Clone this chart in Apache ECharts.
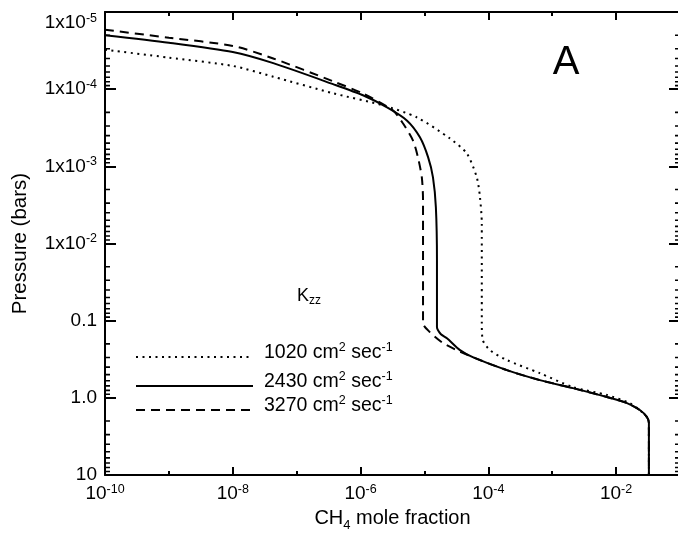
<!DOCTYPE html>
<html><head><meta charset="utf-8">
<script src="https://cdn.jsdelivr.net/npm/echarts@6/dist/echarts.min.js"></script>
<style>html,body{margin:0;padding:0;background:#fff}#c{width:678px;height:534px}</style>
</head><body><div id="c"></div>
<script>
const FONT = '"Liberation Sans", Arial, Helvetica, sans-serif';

// ---- data (CH4 mole fraction vs pressure in bars) ----
const seriesNames = ['1020', '2430', '3270'];
const mole1020 = [1e-10, 1e-9, 1e-8, 4.3e-8, 3.7e-7, 2.24e-6, 7.6e-6, 2.5e-5, 4.6e-5, 6.6e-5, 7.4e-5, 7.9e-5, 7.9e-5, 8.2e-5, 1.06e-4, 1.95e-4, 6.4e-4, 2.11e-3, 7.2e-3, 1.64e-2, 2.35e-2, 3.03e-2, 3.26e-2, 3.26e-2];
const pres1020 = [3.08e-5, 3.9e-5, 5.0e-5, 6.9e-5, 1.13e-4, 1.62e-4, 2.32e-4, 4.35e-4, 6.8e-4, 1.39e-3, 2.52e-3, 5.5e-3, 0.108, 0.179, 0.241, 0.324, 0.479, 0.726, 0.92, 1.17, 1.44, 1.77, 2.12, 10];
const mole2430 = [1e-10, 1e-9, 1e-8, 4.3e-8, 3.7e-7, 1.09e-6, 2.6e-6, 5.3e-6, 8.5e-6, 1.14e-5, 1.36e-5, 1.51e-5, 1.57e-5, 1.57e-5, 1.81e-5, 2.25e-5, 3.6e-5, 5.7e-5, 1.95e-4, 6.4e-4, 2.11e-3, 7.2e-3, 1.48e-2, 2.35e-2, 3.03e-2, 3.26e-2, 3.26e-2];
const pres2430 = [2.0e-5, 2.5e-5, 3.3e-5, 4.6e-5, 8.6e-5, 1.2e-4, 1.72e-4, 2.54e-4, 4.2e-4, 7.6e-4, 1.39e-3, 3.4e-3, 1.65e-2, 0.121, 0.150, 0.169, 0.241, 0.297, 0.438, 0.59, 0.748, 0.977, 1.17, 1.44, 1.77, 2.12, 10];
const mole3270 = [1e-10, 1e-9, 1e-8, 4.3e-8, 3.7e-7, 1.09e-6, 3.2e-6, 4.6e-6, 6.6e-6, 7.9e-6, 9.1e-6, 9.5e-6, 9.5e-6, 1.22e-5, 1.95e-5, 3.2e-5, 5.7e-5, 1.95e-4, 6.4e-4, 2.11e-3, 7.2e-3, 1.48e-2, 2.35e-2, 3.03e-2, 3.26e-2, 3.26e-2];
const pres3270 = [1.70e-5, 2.15e-5, 2.75e-5, 4.0e-5, 7.9e-5, 1.14e-4, 1.88e-4, 2.77e-4, 4.6e-4, 7.6e-4, 1.39e-3, 2.75e-3, 0.108, 0.141, 0.195, 0.241, 0.297, 0.438, 0.59, 0.748, 0.977, 1.17, 1.44, 1.77, 2.12, 10];

// ---- axes / tick labels (decade exponents) ----
const xMinExp = -10, xMaxExp = -1;
const yMinExp = -5, yMaxExp = 1;
const xTickLabels = {'-10': '10^-10', '-8': '10^-8', '-6': '10^-6', '-4': '10^-4', '-2': '10^-2'};
const yTickLabels = {'-5': '1x10^-5', '-4': '1x10^-4', '-3': '1x10^-3', '-2': '1x10^-2', '-1': '0.1', '0': '1.0', '1': '10'};
const xTitle = ['CH', '4', ' mole fraction'];
const yTitle = 'Pressure (bars)';
const legendTitle = ['K', 'zz'];
const legendUnit = ['cm', '2', ' sec', '-1'];
const panelLabel = 'A';

// minor y ticks at 2..9 x 10^k ; tick length expressed in decades of the x axis
const yMinorExps = [];
for (let k = yMinExp; k < yMaxExp; k++) for (let m = 2; m <= 9; m++) yMinorExps.push(k + Math.log10(m));
const minorTickLen = 0.078;

const toPts = (xs, ps) => xs.map((x, i) => [Math.log10(x), Math.log10(ps[i])]);

function supFmt(str) {
  if (!str) return '';
  const i = str.indexOf('^');
  if (i < 0) return '{b|' + str + '}';
  return '{b|' + str.slice(0, i) + '}{s|' + str.slice(i + 1) + '}';
}
const richSup = {
  b: {fontSize: 19, lineHeight: 22, fontFamily: FONT, color: '#000'},
  s: {fontSize: 12.5, lineHeight: 12, verticalAlign: 'top', fontFamily: FONT, color: '#000'}
};
const key = v => String(Math.round(v));
const isInt = v => Math.abs(v - Math.round(v)) < 1e-9;

const chart = echarts.init(document.getElementById('c'), null, {renderer: 'canvas'});
const lineAx = () => ({show: true, onZero: false, lineStyle: {color: '#000', width: 2}});
const noLine = () => ({show: false, onZero: false});

function xAx(pos, len, labels, line) {
  return {
    type: 'value', position: pos, min: xMinExp, max: xMaxExp, interval: labels !== null ? 2 : 1,
    axisLine: line ? lineAx() : noLine(),
    axisTick: {show: true, inside: true, length: len, lineStyle: {color: '#000', width: 2}},
    splitLine: {show: false},
    axisLabel: labels ? {show: true, margin: 8, formatter: v => isInt(v) ? supFmt(xTickLabels[key(v)]) : '', rich: richSup} : {show: false}
  };
}

const baseLine = {type: 'line', showSymbol: false, symbol: 'none', silent: true, z: 3, smooth: 0.25};

// minor tick segments as a broken line series (null points break the line)
function tickSegs(x0, x1) {
  const d = [];
  yMinorExps.forEach(v => { d.push([x0, v], [x1, v], [x0, null]); });
  return d;
}
const tickSeries = (name, x0, x1) => ({
  type: 'line', name: name, showSymbol: false, symbol: 'none', silent: true, connectNulls: false,
  smooth: false, z: 4, lineStyle: {color: '#000', width: 1.6, type: 'solid'}, itemStyle: {color: '#000'},
  data: tickSegs(x0, x1)
});

const option = {
  animation: false,
  backgroundColor: '#fff',
  grid: {left: 105, right: -2, top: 12, bottom: 59, containLabel: false, outerBoundsMode: 'none'},
  xAxis: [
    Object.assign(xAx('bottom', 8, true, true), {
      name: '{n|' + xTitle[0] + '}{u|' + xTitle[1] + '}{n|' + xTitle[2] + '}',
      nameLocation: 'middle', nameGap: 24,
      nameTextStyle: {rich: {
        n: {fontSize: 20, lineHeight: 28, fontFamily: FONT, color: '#000'},
        u: {fontSize: 13, lineHeight: 13, verticalAlign: 'bottom', fontFamily: FONT, color: '#000'}
      }}
    }),
    xAx('bottom', 4, null, false),
    xAx('top', 8, false, true),
    xAx('top', 4, null, false)
  ],
  yAxis: [
    {
      type: 'value', position: 'left', min: yMinExp, max: yMaxExp, interval: 1, inverse: true,
      axisLine: lineAx(),
      axisTick: {show: true, inside: true, length: 11, lineStyle: {color: '#000', width: 2}},
      splitLine: {show: false},
      axisLabel: {show: true, margin: 8, formatter: v => supFmt(yTickLabels[key(v)]), rich: richSup, verticalAlignMinLabel: 'top'},
      name: yTitle, nameLocation: 'middle', nameGap: 73,
      nameTextStyle: {fontSize: 20.5, lineHeight: 24, fontFamily: FONT, color: '#000'}
    },
    {
      type: 'value', position: 'right', min: yMinExp, max: yMaxExp, interval: 1, inverse: true,
      axisLine: lineAx(),
      axisTick: {show: true, inside: true, length: 11, lineStyle: {color: '#000', width: 2}},
      splitLine: {show: false}, axisLabel: {show: false}
    }
  ],
  legend: [0, 1, 2].map(i => ({
    data: [seriesNames[i]], left: 135, top: [341, 370, 394][i], padding: 0,
    itemWidth: 117, itemHeight: 10, selectedMode: false,
    itemStyle: {opacity: 0},
    formatter: n => '{t|' + n + ' ' + legendUnit[0] + '}{s|' + legendUnit[1] + '}{t|' + legendUnit[2] + '}{s|' + legendUnit[3] + '}',
    textStyle: {padding: [0, 0, 8, 6], rich: {
      t: {fontSize: 19.5, lineHeight: 24, fontFamily: FONT, color: '#000'},
      s: {fontSize: 12.5, lineHeight: 12, verticalAlign: 'top', fontFamily: FONT, color: '#000'}
    }}
  })),
  graphic: [
    {type: 'text', left: 297, top: 287, silent: true, style: {
      text: '{k|' + legendTitle[0] + '}{z|' + legendTitle[1] + '}',
      rich: {
        k: {fontSize: 18, lineHeight: 22, fontFamily: FONT, fill: '#000'},
        z: {fontSize: 12, lineHeight: 12, verticalAlign: 'bottom', fontFamily: FONT, fill: '#000'}
      }
    }},
    {type: 'text', x: 566, y: 62.5, silent: true, style: {
      text: panelLabel, fontSize: 40, fontFamily: FONT, fill: '#000', textAlign: 'center', textVerticalAlign: 'middle'
    }}
  ],
  series: [
    Object.assign({}, baseLine, {name: seriesNames[0], data: toPts(mole1020, pres1020),
      lineStyle: {color: '#000', width: 2, type: [2, 4.5], cap: 'butt'}, itemStyle: {color: '#000'}}),
    Object.assign({}, baseLine, {name: seriesNames[1], data: toPts(mole2430, pres2430),
      lineStyle: {color: '#000', width: 2, type: 'solid'}, itemStyle: {color: '#000'}}),
    Object.assign({}, baseLine, {name: seriesNames[2], data: toPts(mole3270, pres3270),
      lineStyle: {color: '#000', width: 2, type: [9, 6], cap: 'butt'}, itemStyle: {color: '#000'}}),
    tickSeries('minorLeft', xMinExp, xMinExp + minorTickLen),
    tickSeries('minorRight', xMaxExp - minorTickLen, xMaxExp)
  ]
};
chart.setOption(option);
</script></body></html>
